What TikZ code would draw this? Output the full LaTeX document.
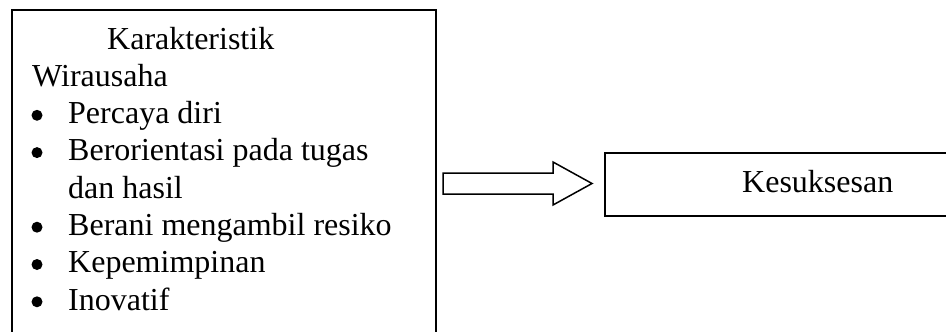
\documentclass[tikz,border=0pt]{standalone}
\usepackage{fontspec}
\setmainfont{Liberation Serif}
\begin{document}
\begin{tikzpicture}[x=1pt,y=-1pt,
  boxstyle/.style={draw, line width=1.6pt, rectangle, inner sep=0pt, anchor=north west},
  txt/.style={anchor=base west, inner sep=0pt, font=\fontsize{32}{37}\selectfont},
  bul/.style={circle, fill, inner sep=0pt, minimum size=11pt}]
\clip (0,0) rectangle (946,332);
\node[boxstyle, minimum width=424pt, minimum height=360pt] (left) at (11,9) {};
\node[boxstyle, minimum width=400pt, minimum height=63pt] (right) at (604,152) {};
\node[txt] (t0) at (107,49) {Karakteristik};
\node[txt] (t1) at (32,86.3) {Wirausaha};
\node[bul] (b1) at (37,115.3) {};
\node[txt] (t2) at (68,123.6) {Percaya diri};
\node[bul] (b2) at (37,152.6) {};
\node[txt] (t3) at (68,160.9) {Berorientasi pada tugas};
\node[txt] (t4) at (68,198.2) {dan hasil};
\node[bul] (b3) at (37,227.2) {};
\node[txt] (t5) at (68,235.5) {Berani mengambil resiko};
\node[bul] (b4) at (37,264.5) {};
\node[txt] (t6) at (68,272.8) {Kepemimpinan};
\node[bul] (b5) at (37,301.8) {};
\node[txt] (t7) at (68,310.1) {Inovatif};
\node[txt] (k) at (742,192) {Kesuksesan};
\draw[line width=1.5pt, line join=miter]
  (443,173) -- (553,173) -- (553,162) -- (592,183.5) -- (553,205) -- (553,194) -- (443,194) -- cycle;
\end{tikzpicture}
\end{document}
